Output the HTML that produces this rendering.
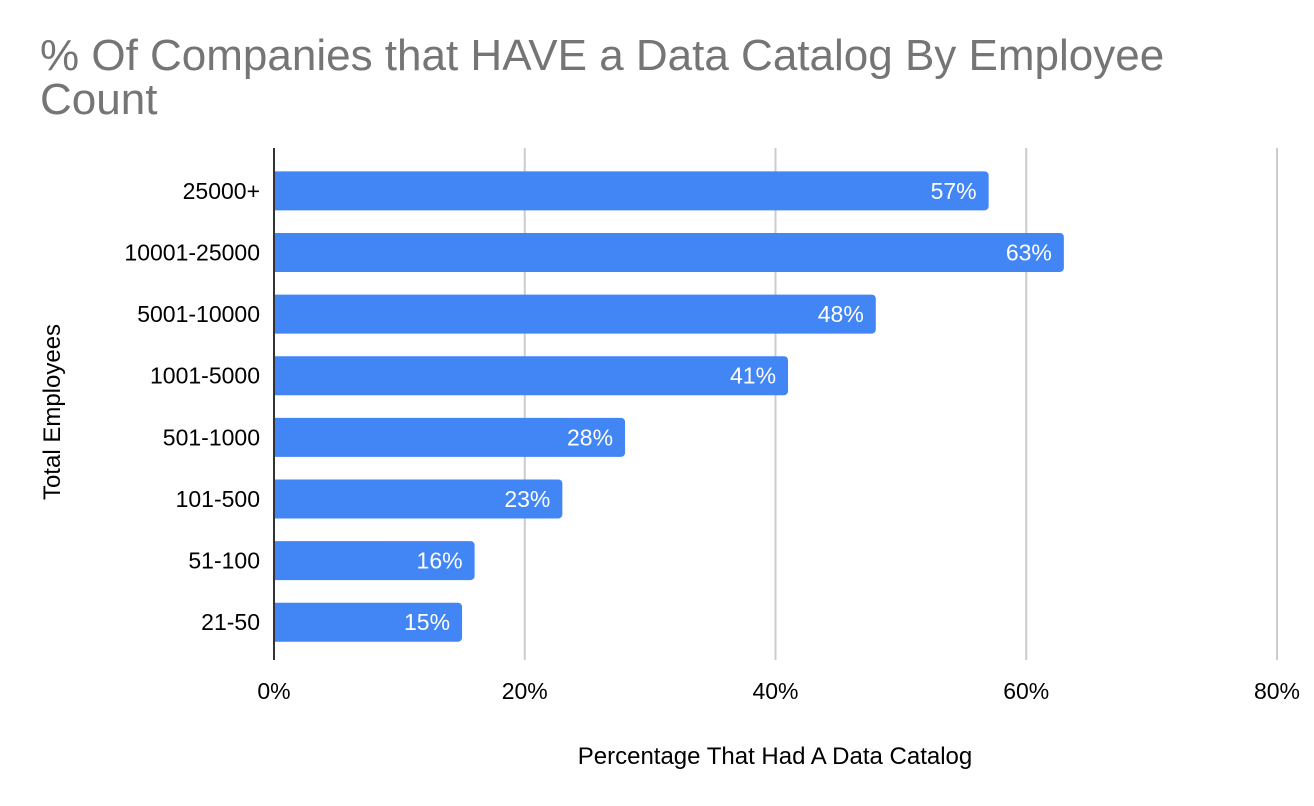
<!DOCTYPE html>
<html><head><meta charset="utf-8"><style>
body{margin:0;background:#fff;font-family:"Liberation Sans",Arial,sans-serif;}
svg{display:block}
</style></head><body>
<svg id="chart" width="1314" height="806">
<text x="40" y="70" font-size="44" fill="#757575">% Of Companies that HAVE a Data Catalog By Employee</text>
<text x="40" y="114" font-size="44" fill="#757575">Count</text>
<text transform="translate(60,412) rotate(-90)" text-anchor="middle" font-size="24" fill="#000">Total Employees</text>
<text x="775" y="764" text-anchor="middle" font-size="24" fill="#000">Percentage That Had A Data Catalog</text>
<g id="grid"></g><g id="bars"></g><g id="labels"></g>
</svg>
<script>
const categories=["25000+","10001-25000","5001-10000","1001-5000","501-1000","101-500","51-100","21-50"];
const values=[57,63,48,41,28,23,16,15];
const ticks=[0,20,40,60,80];
const NS="http://www.w3.org/2000/svg";
const x0=274,x1=1277,xmax=80,plotTop=160,plotBot=653;
const xs=v=>x0+(x1-x0)*v/xmax;
const band=(plotBot-plotTop)/categories.length;
const grid=document.getElementById('grid'),bars=document.getElementById('bars'),labels=document.getElementById('labels');
function mk(tag,attrs,parent){const e=document.createElementNS(NS,tag);for(const k in attrs)e.setAttribute(k,attrs[k]);parent.appendChild(e);return e;}
ticks.forEach(t=>{
 if(t>0){const l=mk('line',{x1:xs(t),x2:xs(t),y1:148,y2:660,stroke:'#cccccc','stroke-width':2},grid);
 
 }
 const tx=mk('text',{x:xs(t),y:699,'text-anchor':'middle','font-size':23,fill:'#000'},grid);
 tx.textContent=t+'%';
 
 
});
categories.forEach((c,i)=>{
 const cy=plotTop+band*(i+0.5),h=39,w=xs(values[i])-x0;
 const p=mk('path',{d:`M${x0},${cy-h/2} h${w-4} a4,4 0 0 1 4,4 v${h-8} a4,4 0 0 1 -4,4 h${-(w-4)} z`,fill:'#4285f4'},bars);
 
 
 const v=mk('text',{x:x0+w-12,y:cy+8,'text-anchor':'end','font-size':23,fill:'#fff'},labels);
 v.textContent=values[i]+'%';
 
 
 const cl=mk('text',{x:260,y:cy+8,'text-anchor':'end','font-size':23,fill:'#000'},labels);
 cl.textContent=c;
 
 
});
const ax=mk('line',{x1:x0,x2:x0,y1:148,y2:660,stroke:'#333','stroke-width':2},labels);


</script>
</body></html>
